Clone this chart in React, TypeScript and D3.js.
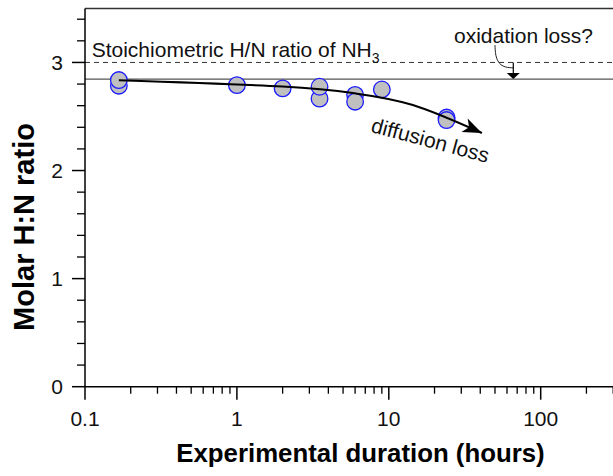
import React from "react";
import * as d3 from "d3";

// ---- data ----
const hours = [0.167, 0.167, 1, 2, 3.5, 3.5, 6, 6, 9, 24, 24];
const ratio = [2.785, 2.837, 2.79, 2.76, 2.665, 2.775, 2.70, 2.637, 2.75, 2.49, 2.467];

const xMajorTicks = [0.1, 1, 10, 100];
const xTickLabels = ["0.1", "1", "10", "100"];
const yMajorTicks = [0, 1, 2, 3];
const yTickLabels = ["0", "1", "2", "3"];

const stoichRatio = 3.0;
const observedRatio = 2.846;

// diffusion-loss trend arrow (data coordinates)
const trendHours = [0.167, 2, 6, 14.4, 41];
const trendRatio = [2.835, 2.777, 2.714, 2.606, 2.347];

// oxidation-loss leader (data coordinates)
const leaderHours = [50, 50.5, 56, 66];
const leaderRatio = [3.16, 3.03, 2.955, 2.95];
const oxArrowHour = 66;

const W = 613;
const H = 476;

export default function App() {
  const x = d3.scaleLog().domain([0.1, 1000]).range([85, 85 + 4 * 151.9]);
  const y = d3.scaleLinear().domain([0, 3.5]).range([386.7, 8.4]);

  const xMinor: number[] = [];
  for (const dec of [0.1, 1, 10, 100]) {
    for (let k = 2; k <= 9; k++) xMinor.push(dec * k);
  }
  const yMinor: number[] = d3.range(0, 3.5, 0.2).filter((v) => Math.abs(v - Math.round(v)) > 1e-6);

  const font = "'Liberation Sans', Arial, Helvetica, sans-serif";

  const trendLine = d3
    .line<number>()
    .x((_, i) => x(trendHours[i]))
    .y((_, i) => y(trendRatio[i]))
    .curve(d3.curveNatural);

  const leaderLine = d3
    .line<number>()
    .x((_, i) => x(leaderHours[i]))
    .y((_, i) => y(leaderRatio[i]))
    .curve(d3.curveBasis);

  const xLeft = x(0.1);
  const yBottom = y(0);
  const yTop = y(3.5);
  const oxX = x(oxArrowHour);

  return (
    <svg
      width={W}
      height={H}
      style={{ position: "fixed", left: 0, top: 0, background: "#fff" }}
      fontFamily={font}
    >
      <defs>
        <marker
          id="bigArrow"
          markerUnits="userSpaceOnUse"
          markerWidth={30}
          markerHeight={30}
          refX={0}
          refY={0}
          viewBox="-20 -10 30 20"
          orient="auto"
        >
          <path d="M0,0 L-19,-7.5 L-14,0 L-19,7.5 Z" fill="#000" />
        </marker>
      </defs>
      <rect x={0} y={0} width={W} height={H} fill="#fff" />

      {/* top border */}
      <line x1={xLeft} x2={W} y1={yTop} y2={yTop} stroke="#333" strokeWidth={1.5} />

      {/* reference lines */}
      <line
        x1={xLeft}
        x2={W}
        y1={y(stoichRatio)}
        y2={y(stoichRatio)}
        stroke="#333"
        strokeWidth={1}
        strokeDasharray="5,4"
      />
      <line
        x1={xLeft}
        x2={W}
        y1={y(observedRatio)}
        y2={y(observedRatio)}
        stroke="#555"
        strokeWidth={1.3}
      />

      {/* axes */}
      <line x1={xLeft} x2={W} y1={yBottom} y2={yBottom} stroke="#000" strokeWidth={1.5} />
      <line x1={xLeft} x2={xLeft} y1={yTop} y2={yBottom} stroke="#000" strokeWidth={1.5} />

      {xMajorTicks.map((t, i) => (
        <g key={"xm" + t}>
          <line x1={x(t)} x2={x(t)} y1={yBottom} y2={yBottom + 13} stroke="#000" strokeWidth={1.5} />
          <text x={x(t)} y={426} textAnchor="middle" fontSize={21} fill="#111">
            {xTickLabels[i]}
          </text>
        </g>
      ))}
      {xMinor.map((t) => (
        <line key={"xn" + t} x1={x(t)} x2={x(t)} y1={yBottom} y2={yBottom + 7} stroke="#000" strokeWidth={1.3} />
      ))}

      {yMajorTicks.map((v, i) => (
        <g key={"ym" + v}>
          <line x1={xLeft - 13} x2={xLeft} y1={y(v)} y2={y(v)} stroke="#000" strokeWidth={1.5} />
          <text x={63} y={y(v)} dy="0.36em" textAnchor="end" fontSize={21} fill="#111">
            {yTickLabels[i]}
          </text>
        </g>
      ))}
      {yMinor.map((v) => (
        <line key={"yn" + v} x1={xLeft - 8} x2={xLeft} y1={y(v)} y2={y(v)} stroke="#000" strokeWidth={1.3} />
      ))}

      {/* axis titles */}
      <text x={360.5} y={462} textAnchor="middle" fontSize={25.8} fontWeight="bold" fill="#000">
        Experimental duration (hours)
      </text>
      <text
        transform="translate(33.5,227) rotate(-90)"
        textAnchor="middle"
        fontSize={29}
        fontWeight="bold"
        fill="#000"
      >
        Molar H:N ratio
      </text>

      {/* annotations */}
      <text x={91.7} y={56.7} fontSize={21} fill="#111">
        Stoichiometric H/N ratio of NH
        <tspan fontSize={14} dy={6}>3</tspan>
      </text>
      <text x={454} y={42.7} fontSize={21} fill="#111">
        oxidation loss?
      </text>
      <path d={leaderLine(leaderHours) || ""} fill="none" stroke="#222" strokeWidth={1} />
      <line x1={oxX} x2={oxX} y1={y(stoichRatio)} y2={y(observedRatio) - 5} stroke="#000" strokeWidth={1.2} />
      <path
        d={`M${oxX},${y(observedRatio)} L${oxX - 6.5},${y(observedRatio) - 6} L${oxX + 6.5},${y(observedRatio) - 6} Z`}
        fill="#000"
      />

      {/* data points */}
      {hours.map((h, i) => (
        <circle
          key={"p" + i}
          cx={x(h)}
          cy={y(ratio[i])}
          r={8.3}
          fill="#c0c0c0"
          stroke="#1a1aff"
          strokeWidth={1.3}
        />
      ))}

      {/* diffusion trend arrow */}
      <path
        d={trendLine(trendHours) || ""}
        fill="none"
        stroke="#000"
        strokeWidth={2}
        markerEnd="url(#bigArrow)"
      />
      <text x={370} y={131.7} fontSize={21} fill="#111" transform="rotate(15,370,131.7)">
        diffusion loss
      </text>
    </svg>
  );
}
